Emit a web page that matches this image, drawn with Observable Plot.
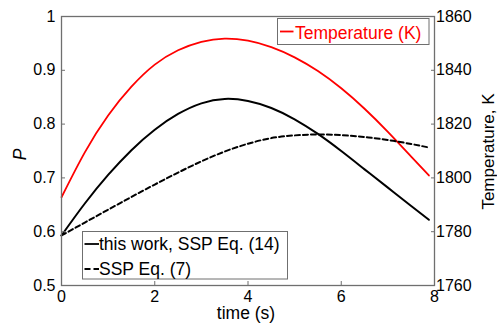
<!DOCTYPE html>
<html><head><meta charset="utf-8">
<script src="https://cdn.jsdelivr.net/npm/d3@7"></script>
<script src="https://cdn.jsdelivr.net/npm/@observablehq/plot@0.6"></script>
<style>body{margin:0;background:#fff}#chart svg{display:block}</style>
</head><body><div id="chart"></div>
<script>
// ---- data ----
const time        = [0, 0.5, 1, 1.5, 2, 2.5, 3, 3.5, 4, 4.5, 5, 5.5, 6, 6.5, 7, 7.5, 7.88];
const thisWork    = [0.593, 0.6524, 0.7055, 0.7515, 0.7895, 0.8188, 0.8386, 0.8468, 0.843, 0.830, 0.809, 0.7817, 0.7499, 0.7159, 0.6819, 0.6479, 0.6221];
const sspEq7      = [0.593, 0.617, 0.6409, 0.6646, 0.6877, 0.7099, 0.7307, 0.749, 0.7635, 0.774, 0.779, 0.7808, 0.7795, 0.776, 0.7705, 0.763, 0.7565];
const temperature = [1792.8, 1809.5, 1823.2, 1833.9, 1842.1, 1847.45, 1850.6, 1851.8, 1851.0, 1848.6, 1844.8, 1839.7, 1833.3, 1825.7, 1817.1, 1807.9, 1800.9];
const pTicks      = [0.5, 0.6, 0.7, 0.8, 0.9, 1];
const tempTicks   = [1760, 1780, 1800, 1820, 1840, 1860];
const timeTicks   = [0, 2, 4, 6, 8];
const pDomain     = [0.5, 1];
const tempDomain  = [1760, 1860];
const seriesNames = ["this work, SSP Eq. (14)", "SSP Eq. (7)"];
const tempName    = "Temperature (K)";
const xLabel = "time (s)", yLabel = "P", y2Label = "Temperature, K";

// map temperature onto the P scale (dual axis)
const tempToP = T => pDomain[0] + (T - tempDomain[0]) / (tempDomain[1] - tempDomain[0]) * (pDomain[1] - pDomain[0]);
const pToTemp = p => String(Math.round(tempDomain[0] + (p - pDomain[0]) / (pDomain[1] - pDomain[0]) * (tempDomain[1] - tempDomain[0])));

const rows = time.map((t, i) => ({t, work: thisWork[i], ssp: sspEq7[i], temp: tempToP(temperature[i])}));

const FONT = "'Liberation Sans', Arial, Helvetica, sans-serif";
const AX = "#6f6f6f";

const svg = Plot.plot({
  width: 497, height: 325,
  marginLeft: 61, marginRight: 63, marginTop: 16, marginBottom: 40,
  x: {domain: [0, 8]},
  y: {domain: pDomain},
  style: {fontFamily: FONT, fontSize: "16px", color: "black", background: "white", overflow: "visible"},
  marks: [
    Plot.line(rows, {x: "t", y: "temp", stroke: "#ff0000", strokeWidth: 1.8, curve: "natural"}),
    Plot.line(rows, {x: "t", y: "work", stroke: "black", strokeWidth: 2, curve: "natural"}),
    Plot.line(rows, {x: "t", y: "ssp", stroke: "black", strokeWidth: 2, strokeDasharray: "5,3", curve: "natural"}),
    Plot.frame({stroke: AX, strokeWidth: 1.3}),
    Plot.axisX({ticks: timeTicks, tickSize: -4, tickPadding: 9, label: null, stroke: AX, fill: "black", tickFormat: d => String(d)}),
    Plot.axisY({anchor: "left", ticks: pTicks, tickSize: -4, tickPadding: 10, label: null, stroke: AX, fill: "black", tickFormat: d => String(d)}),
    Plot.axisY({anchor: "right", ticks: tempTicks.map(tempToP), tickSize: -4, tickPadding: 5.5, label: null, stroke: AX, fill: "black", tickFormat: pToTemp})
  ]
});
document.getElementById("chart").appendChild(svg);

// ---- axis titles and legends ----
const s = d3.select(svg);
const g = s.append("g").attr("font-family", FONT).attr("fill", "black").attr("text-anchor", "middle");
g.append("text").attr("x", 246).attr("y", 319).attr("font-size", 17.5).text(xLabel);
g.append("text").attr("transform", "translate(26,154.5) rotate(-90)")
  .attr("font-size", 17.5).attr("font-style", "italic").text(yLabel);
g.append("text").attr("transform", "translate(494,151.5) rotate(-90)")
  .attr("font-size", 17).text(y2Label);

// temperature legend (top right)
const l1 = s.append("g").attr("font-family", FONT).attr("font-size", 17.5).attr("text-anchor", "start");
l1.append("rect").attr("x", 277.5).attr("y", 18.5).attr("width", 151.5).attr("height", 26).attr("fill", "white").attr("stroke", AX).attr("stroke-width", 1);
l1.append("line").attr("x1", 280).attr("x2", 293.5).attr("y1", 31.5).attr("y2", 31.5).attr("stroke", "#ff0000").attr("stroke-width", 1.8);
l1.append("text").attr("x", 295).attr("y", 39.3).attr("fill", "#ff0000").text(tempName);

// P legend (bottom left)
const l2 = s.append("g").attr("font-family", FONT).attr("font-size", 17.5).attr("text-anchor", "start");
l2.append("rect").attr("x", 82.5).attr("y", 231.5).attr("width", 205).attr("height", 47.5).attr("fill", "white").attr("stroke", AX).attr("stroke-width", 1);
const entries = [{name: seriesNames[0], dash: null, ly: 244, ty: 250}, {name: seriesNames[1], dash: "5,3", ly: 269, ty: 275}];
entries.forEach(e => {
  const ln = l2.append("line").attr("x1", 84.5).attr("x2", 99).attr("y1", e.ly).attr("y2", e.ly).attr("stroke", "black").attr("stroke-width", 1.8);
  if (e.dash) ln.attr("stroke-dasharray", "6,3");
  l2.append("text").attr("x", 99).attr("y", e.ty).attr("fill", "black").text(e.name);
});
</script>
</body></html>
